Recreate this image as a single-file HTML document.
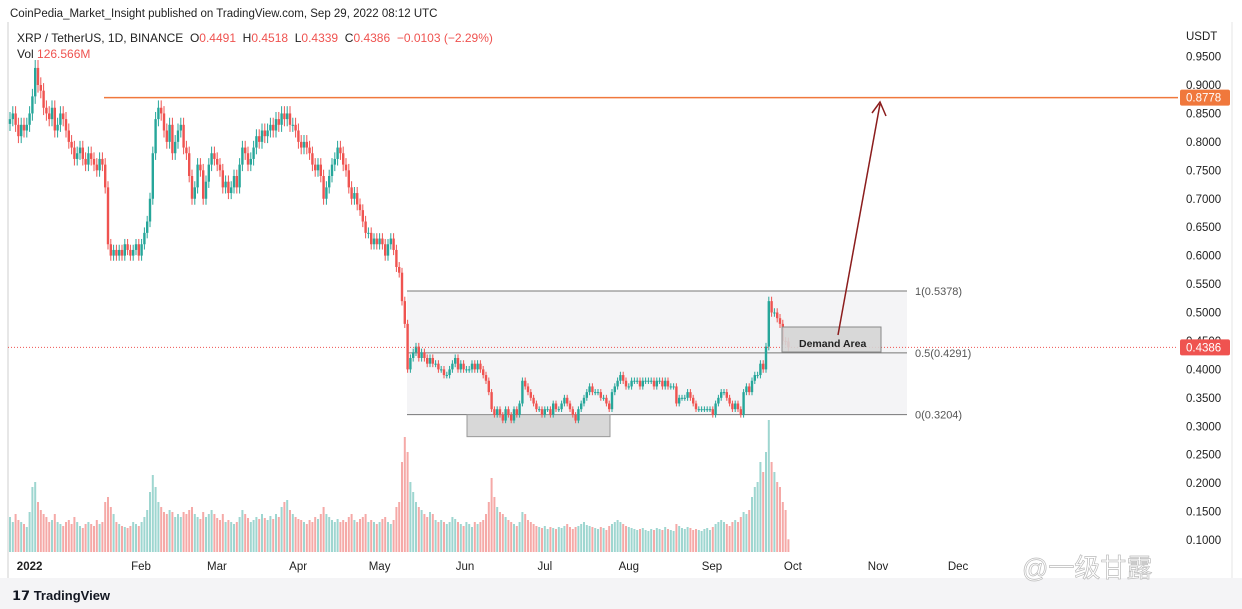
<!DOCTYPE html>
<html><head><meta charset="utf-8"><style>
body{margin:0;background:#fff;font-family:"Liberation Sans","Noto Sans CJK SC",sans-serif;}
#wrap{position:relative;width:1242px;height:609px;overflow:hidden;background:#fff}
svg{position:absolute;left:0;top:0}
</style></head><body><div id="wrap">
<svg id="chart" width="1242" height="609">
<rect x="0" y="578" width="1242" height="31" fill="#f4f4f6"/>
<line x1="1232" y1="22" x2="1232" y2="578" stroke="#e4e4e4"/>
<line x1="8" y1="22" x2="8" y2="578" stroke="#cfcfcf"/>
<text x="10" y="17" font-size="11.5" fill="#222">CoinPedia_Market_Insight published on TradingView.com, Sep 29, 2022 08:12 UTC</text>
<g id="fib"></g>
<g id="vol"></g>
<g id="candles"></g>
<g id="overlay"></g>
<g id="yaxis"></g>
<g id="xaxis"></g>
<text x="17" y="42" font-size="12" fill="#222" xml:space="preserve" style="white-space:pre">XRP / TetherUS, 1D, BINANCE  O<tspan fill="#ef5350">0.4491</tspan>  H<tspan fill="#ef5350">0.4518</tspan>  L<tspan fill="#ef5350">0.4339</tspan>  C<tspan fill="#ef5350">0.4386</tspan>  <tspan fill="#ef5350">−0.0103 (−2.29%)</tspan></text>
<text x="17" y="58" font-size="12" fill="#222">Vol <tspan fill="#ef5350">126.566M</tspan></text>
<text x="1022" y="577" font-size="26" fill="#fff" stroke="#bbb" stroke-width="0.7">@一级甘露</text>
<text x="12" y="600" font-size="13" font-weight="bold" fill="#131722">𝟭𝟳 TradingView</text>
</svg>
<script>
const closes=[0.84,0.85,0.83,0.81,0.83,0.82,0.83,
0.85,0.88,0.93,0.90,0.89,0.86,0.85,
0.84,0.86,0.82,0.83,0.85,0.84,0.82,
0.80,0.79,0.77,0.78,0.79,0.77,0.76,
0.78,0.77,0.76,0.75,0.77,0.76,0.72,
0.62,0.60,0.61,0.60,0.61,0.60,0.62,
0.61,0.60,0.61,0.62,0.60,0.62,0.64,
0.66,0.70,0.78,0.84,0.86,0.85,0.82,
0.80,0.83,0.78,0.80,0.82,0.83,0.79,
0.78,0.74,0.70,0.72,0.76,0.75,0.70,
0.73,0.76,0.78,0.77,0.76,0.75,0.72,
0.73,0.71,0.72,0.74,0.72,0.76,0.79,
0.78,0.76,0.77,0.79,0.81,0.80,0.82,
0.81,0.82,0.83,0.82,0.84,0.83,0.85,
0.84,0.85,0.83,0.83,0.82,0.80,0.79,
0.80,0.79,0.78,0.76,0.75,0.76,0.74,
0.70,0.72,0.74,0.76,0.77,0.79,0.78,
0.76,0.75,0.72,0.70,0.71,0.69,0.68,
0.66,0.64,0.64,0.62,0.63,0.62,0.63,
0.62,0.60,0.62,0.63,0.61,0.58,0.57,
0.52,0.48,0.40,0.42,0.43,0.44,0.42,
0.43,0.42,0.41,0.42,0.41,0.41,0.40,
0.40,0.39,0.39,0.40,0.41,0.42,0.40,
0.41,0.40,0.40,0.40,0.41,0.40,0.41,
0.40,0.39,0.38,0.36,0.33,0.32,0.33,
0.32,0.31,0.33,0.32,0.31,0.33,0.32,
0.34,0.38,0.37,0.36,0.35,0.34,0.33,
0.33,0.32,0.33,0.33,0.32,0.34,0.33,
0.33,0.34,0.35,0.34,0.33,0.32,0.31,
0.33,0.34,0.35,0.36,0.37,0.36,0.36,
0.36,0.35,0.35,0.34,0.33,0.36,0.37,
0.38,0.39,0.38,0.37,0.37,0.38,0.38,
0.38,0.37,0.38,0.38,0.38,0.38,0.37,
0.38,0.38,0.37,0.38,0.37,0.37,0.37,
0.34,0.35,0.35,0.35,0.36,0.35,0.34,
0.33,0.33,0.33,0.33,0.33,0.33,0.32,
0.34,0.35,0.36,0.36,0.35,0.34,0.33,
0.34,0.33,0.32,0.36,0.37,0.36,0.38,
0.39,0.39,0.41,0.40,0.44,0.52,0.50,
0.50,0.49,0.48,0.45,0.4491,0.4386];
const volumes=[350,300,380,320,300,280,250,
400,650,700,500,420,380,350,
300,320,380,300,280,260,300,
320,280,350,300,260,240,280,
300,280,260,320,280,300,500,
550,450,380,300,280,260,250,
240,260,300,280,260,300,350,
420,600,770,650,500,450,400,
380,420,400,350,380,350,400,
380,420,450,380,350,330,400,
350,380,420,380,340,320,380,
300,320,300,280,300,350,420,
380,340,300,320,350,330,380,
340,320,360,330,380,350,450,
500,520,420,380,350,330,320,
300,280,320,300,350,330,380,
450,380,350,320,300,330,300,
320,300,350,380,320,300,330,
350,380,300,320,300,280,300,
330,350,300,280,320,450,500,
900,1150,1000,700,600,500,450,
420,380,350,400,380,320,300,
320,300,280,300,350,330,300,
280,260,300,280,250,300,280,
300,320,380,500,740,550,450,
400,380,350,320,300,280,260,
300,400,380,320,300,280,260,
250,240,260,230,250,240,230,
250,240,260,280,250,230,250,
260,280,300,270,260,250,240,
230,250,240,220,260,280,300,
320,300,280,260,250,240,230,
220,230,240,220,210,230,220,
240,230,220,250,230,220,210,
280,260,240,230,250,240,220,
230,220,210,230,240,220,250,
280,300,320,300,280,260,300,
320,300,350,400,380,420,550,
650,700,900,800,1000,1320,900,
800,700,650,500,420,127];
const monthLabels=["2022","Feb","Mar","Apr","May","Jun","Jul","Aug","Sep","Oct","Nov","Dec"];
const monthDayIndex=[7,46.8,73.9,102.9,132,162.5,191,221,250.7,279.6,310,338.6];
const priceTicks=[0.95,0.9,0.85,0.8,0.75,0.7,0.65,0.6,0.55,0.5,0.45,0.4,0.35,0.3,0.25,0.2,0.15,0.1];
const fibLevels=[0.5378,0.4291,0.3204];
const fibNames=["1","0.5","0"];
const targetPrice=0.8778;
const lastPrice=0.4386;

const NS="http://www.w3.org/2000/svg";
const X=i=>10+2.8*i;
const Y=p=>85+(0.9-p)*568.75;
const V=v=>552-v*0.1;
function mk(parent,tag,attrs){const e=document.createElementNS(NS,tag);for(const k in attrs)e.setAttribute(k,attrs[k]);document.getElementById(parent).appendChild(e);return e;}

const fy=fibLevels.map(Y);
let r=mk('fib','rect',{x:407,y:fy[0],width:500,height:fy[2]-fy[0],fill:'#f4f4f6'});


fibLevels.forEach((l,k)=>{
 let ln=mk('fib','line',{x1:407,x2:907,y1:Y(l),y2:Y(l),stroke:'#777','stroke-width':1});
 
 
 let t=mk('fib','text',{x:915,y:Y(l)+4,'font-size':11,fill:'#555'});
 t.textContent=fibNames[k]+'('+l.toFixed(4)+')';
 
 
});
let sb=mk('fib','rect',{x:467,y:Y(0.3204),width:143,height:22,fill:'#d8d8d8',stroke:'#999'});



for(let i=0;i<closes.length;i++){
 const o=i?closes[i-1]:closes[0]*0.99, c=closes[i];
 const up=c>=o, col=up?'#26a69a':'#ef5350';
 const vb=mk('vol','rect',{x:X(i)-1,y:V(volumes[i]),width:2,height:552-V(volumes[i]),fill:up?'#9ed6d0':'#f5a9a7'});
 
 
 const hi=Math.max(o,c)*1.015, lo=Math.min(o,c)*0.985;
 const w=mk('candles','line',{x1:X(i),x2:X(i),y1:Y(hi),y2:Y(lo),stroke:col,'stroke-width':1});
 
 
 const b=mk('candles','rect',{x:X(i)-1.2,y:Y(Math.max(o,c)),width:2.4,height:Math.max(1,Math.abs(Y(o)-Y(c))),fill:col});
 
 
}

let tl=mk('overlay','line',{x1:104,x2:1178,y1:Y(targetPrice),y2:Y(targetPrice),stroke:'#f0783c','stroke-width':1.5});


let ll=mk('overlay','line',{x1:8,x2:1178,y1:Y(lastPrice),y2:Y(lastPrice),stroke:'#ef5350','stroke-width':1,'stroke-dasharray':'1,2'});


let da=mk('overlay','rect',{x:782,y:327,width:99,height:25,fill:'#d5d5d5',stroke:'#888','fill-opacity':0.9});


let dt=mk('overlay','text',{x:799,y:347,'font-size':10.5,'font-weight':'bold',fill:'#222'});
dt.textContent='Demand Area';


let ar=mk('overlay','line',{x1:838,y1:335,x2:880,y2:104,stroke:'#8b1c1c','stroke-width':1.5});


let ah=mk('overlay','polyline',{points:'872,113 880,102 886,116',fill:'none',stroke:'#8b1c1c','stroke-width':1.5});



let ut=mk('yaxis','text',{x:1186,y:40,'font-size':11.5,fill:'#222'});
ut.textContent='USDT';


priceTicks.forEach(p=>{
 const t=mk('yaxis','text',{x:1186,y:Y(p)+4,'font-size':11.5,fill:'#222'});
 t.textContent=p.toFixed(4);
 
 
});
[[targetPrice,'#f0783c'],[lastPrice,'#ef5350']].forEach(([p,c])=>{
 const b=mk('yaxis','rect',{x:1180,y:Y(p)-8,width:50,height:16,fill:c,rx:2});
 
 
 const t=mk('yaxis','text',{x:1186,y:Y(p)+4,'font-size':11.5,fill:'#fff'});
 t.textContent=p.toFixed(4);
 
 
});

monthLabels.forEach((m,k)=>{
 const t=mk('xaxis','text',{x:X(monthDayIndex[k]),y:570,'font-size':11.5,fill:'#222','text-anchor':'middle','font-weight':k==0?'bold':'normal'});
 t.textContent=m;
 
 
});
</script>
</div></body></html>
